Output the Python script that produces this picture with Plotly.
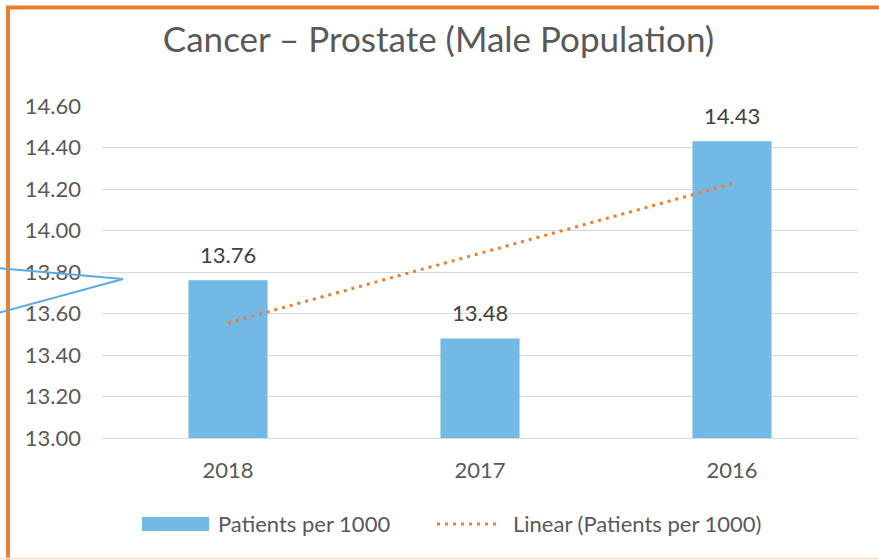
import numpy as np
import plotly.graph_objects as go

# ---- data ----
years = ["2018", "2017", "2016"]
patients_per_1000 = [13.76, 13.48, 14.43]
y_ticks = [13.0, 13.2, 13.4, 13.6, 13.8, 14.0, 14.2, 14.4, 14.6]
title_text = "Cancer – Prostate (Male Population)"
series_name = "Patients per 1000"
trend_name = "Linear (Patients per 1000)"

# linear trendline (least squares over category index, as Excel does)
idx = np.arange(1, len(years) + 1)
slope, intercept = np.polyfit(idx, patients_per_1000, 1)
trend_vals = [float(slope * i + intercept) for i in idx]

W, H = 879, 560
L, R, T, B = 102, 858, 106, 438  # plot area in pixels

def px(x):
    return (x - L) / (R - L)

def py(y):
    return (B - y) / (B - T)

BAR = "#72B9E6"
ORANGE = "#ED7D31"
TXT = "#595959"
FONT = "Lato"
FS = 22

fig = go.Figure()
fig.add_trace(go.Bar(
    x=years, y=patients_per_1000, name=series_name,
    marker=dict(color=BAR, line=dict(width=0)),
    showlegend=False, hoverinfo="x+y",
))
fig.add_trace(go.Scatter(
    x=[years[0], years[-1]], y=[trend_vals[0], trend_vals[-1]],
    mode="lines", name=trend_name,
    line=dict(color=ORANGE, width=3, dash="3px,5px"),
    showlegend=False,
))

# data labels (category axis: position by category index)
for i, v in enumerate(patients_per_1000):
    fig.add_annotation(x=i, y=v, text=f"{v:.2f}", showarrow=False,
                       yanchor="middle", yshift=26,
                       font=dict(family=FONT, size=FS, color="#404040"))

shapes = []
# orange chart border (left and top)
shapes.append(dict(type="path", xref="paper", yref="paper",
                   path=f"M {px(8)},{py(562)} L {px(8)},{py(7.5)} L {px(881)},{py(7.5)}",
                   line=dict(color=ORANGE, width=4), layer="above"))
# faint bottom edge
shapes.append(dict(type="line", xref="paper", yref="paper",
                   x0=px(0), x1=px(879), y0=py(558.5), y1=py(558.5),
                   line=dict(color="#FBE3D3", width=2), layer="above"))
# stray callout line at left
shapes.append(dict(type="path", xref="paper", yref="paper",
                   path=f"M {px(-2)},{py(268)} L {px(123)},{py(279)} L {px(-2)},{py(313)}",
                   line=dict(color="#5AABE0", width=2), layer="above"))
# legend swatches
shapes.append(dict(type="rect", xref="paper", yref="paper",
                   x0=px(142), x1=px(209), y0=py(531), y1=py(517),
                   fillcolor=BAR, line=dict(width=0)))
shapes.append(dict(type="line", xref="paper", yref="paper",
                   x0=px(437), x1=px(499), y0=py(524), y1=py(524),
                   line=dict(color=ORANGE, width=3, dash="3px,5px")))

fig.add_annotation(xref="paper", yref="paper", x=px(216), y=py(523),
                   text=series_name, showarrow=False, xanchor="left", yanchor="middle",
                   font=dict(family=FONT, size=FS, color=TXT))
fig.add_annotation(xref="paper", yref="paper", x=px(511), y=py(523),
                   text=trend_name, showarrow=False, xanchor="left", yanchor="middle",
                   font=dict(family=FONT, size=FS, color=TXT))

fig.update_layout(
    width=W, height=H,
    margin=dict(l=L, r=W - R, t=T, b=H - B, pad=0),
    paper_bgcolor="white", plot_bgcolor="white",
    shapes=shapes,
    bargap=0.686,
    title=dict(text=title_text, x=(438.5 / W), xanchor="center", xref="container",
               y=1 - 40 / H, yanchor="middle",
               font=dict(family=FONT, size=35, color=TXT)),
    font=dict(family=FONT, color=TXT),
    xaxis=dict(type="category", categoryorder="array", categoryarray=years,
               range=[-0.5, len(years) - 0.5],
               showgrid=False, showline=True, linecolor="#D9D9D9", linewidth=1,
               ticks="", ticklabelstandoff=13, tickfont=dict(family=FONT, size=FS, color=TXT),
               fixedrange=True),
    yaxis=dict(range=[13.0, 14.6], tickvals=y_ticks, tickformat=".2f",
               showgrid=True, gridcolor="#D9D9D9", gridwidth=1, zeroline=False,
               showline=False, ticks="", ticklabelstandoff=20,
               tickfont=dict(family=FONT, size=FS, color=TXT), fixedrange=True),
)

fig.write_html("out.html", config={"displayModeBar": False},
               post_script="document.body.style.margin='0';")
